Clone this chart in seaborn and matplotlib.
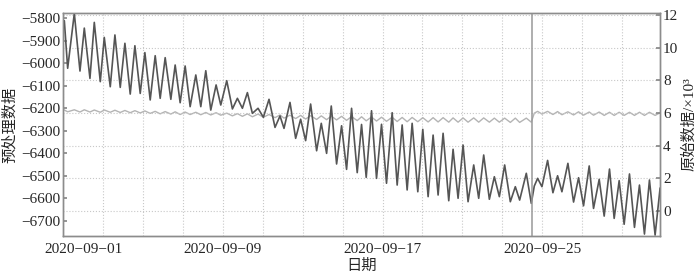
import pandas as pd
import numpy as np
import matplotlib
matplotlib.use('Agg')
import matplotlib.pyplot as plt
import matplotlib.dates as mdates
from matplotlib.transforms import ScaledTranslation
import seaborn as sns

START = pd.Timestamp('2020-09-01 00:00')
STEP_HOUR = 564  # instrument reset (vertical line)

# ----------------------- Data ----------------------
# hours since 2020-09-01 00:00, at each tidal peak / trough
hours = [1.6, 5.6, 13.6, 20.4, 25.6, 32.4, 37.6, 44.8, 49.6, 56.8,
         62.4, 68.8, 74.4, 80.8, 86.4, 92.8, 98.4, 104.8, 110.8, 116.8,
         122.8, 129.6, 134.8, 140.8, 146.8, 152.8, 159.6, 165.6, 171.6, 177.6,
         184.0, 189.6, 196.8, 203.6, 209.6, 215.6, 221.6, 227.6, 234.4, 240.8,
         247.6, 254.8, 260.8, 265.6, 272.8, 279.6, 285.6, 291.6, 297.6, 304.8,
         310.4, 316.8, 322.4, 328.8, 334.8, 340.8, 346.8, 353.6, 358.8, 364.4,
         370.8, 376.8, 382.8, 388.8, 395.6, 401.6, 407.6, 413.6, 419.6, 426.4,
         432.4, 438.8, 444.8, 450.8, 456.8, 463.6, 468.8, 474.8, 480.8, 486.8,
         493.6, 499.6, 505.6, 512.4, 518.4, 524.4, 530.8, 537.6, 543.6, 548.8,
         556.8, 562.8, 566.4, 570.4, 575.6, 582.4, 588.8, 594.4, 599.6, 606.8,
         613.6, 619.6, 625.6, 632.4, 637.6, 644.4, 650.4, 656.8, 662.4, 668.4,
         674.4, 680.8, 686.8, 692.8, 698.8, 704.8, 711.6, 717.6]

# raw data, x10^3 (right axis)
raw = [11.65, 8.74, 12.1, 8.57, 11.2, 8.12, 11.55, 7.92, 10.63, 7.61,
       10.78, 7.57, 10.27, 7.16, 10.12, 7.2, 9.7, 6.8, 9.51, 6.9,
       9.39, 6.84, 8.94, 6.63, 8.88, 6.39, 8.33, 6.39, 8.59, 6.18,
       7.72, 6.49, 7.98, 6.25, 6.9, 6.29, 7.25, 5.98, 6.29, 5.74,
       6.84, 5.12, 5.82, 5.06, 6.65, 4.45, 5.62, 4.31, 6.55, 3.69,
       5.37, 3.53, 6.43, 2.88, 5.22, 2.55, 6.29, 2.35, 5.3, 2.06,
       6.14, 2.0, 5.31, 1.7, 6.02, 1.59, 5.27, 1.29, 5.37, 1.18,
       5.0, 0.88, 4.65, 0.98, 4.76, 0.63, 3.78, 0.78, 4.04, 0.57,
       2.82, 0.78, 3.43, 0.72, 2.1, 0.88, 2.82, 0.57, 1.49, 0.67,
       2.31, 0.47, 1.53, 2.0, 1.49, 3.1, 1.12, 2.16, 1.18, 2.92,
       0.55, 2.04, 0.32, 2.76, 0.16, 1.94, -0.31, 2.57, -0.45, 1.86,
       -0.81, 2.27, -1.0, 1.59, -1.41, 1.9, -1.47, 1.41]

# pre-processed data (left axis)
pre = [-6208, -6216, -6207, -6217, -6207, -6217, -6208, -6218, -6208, -6218,
       -6209, -6219, -6210, -6220, -6211, -6221, -6212, -6223, -6214, -6225,
       -6215, -6226, -6216, -6228, -6217, -6228, -6218, -6229, -6219, -6230,
       -6220, -6231, -6222, -6234, -6224, -6236, -6225, -6238, -6226, -6240,
       -6228, -6242, -6230, -6244, -6231, -6246, -6232, -6248, -6233, -6250,
       -6234, -6251, -6235, -6252, -6236, -6254, -6237, -6255, -6238, -6256,
       -6239, -6257, -6240, -6258, -6240, -6259, -6241, -6260, -6241, -6260,
       -6242, -6261, -6242, -6261, -6242, -6262, -6243, -6262, -6243, -6262,
       -6243, -6262, -6243, -6262, -6244, -6262, -6244, -6263, -6244, -6263,
       -6244, -6262, -6222, -6214, -6226, -6214, -6228, -6215, -6229, -6216,
       -6230, -6216, -6231, -6217, -6231, -6217, -6232, -6218, -6232, -6218,
       -6232, -6218, -6232, -6218, -6232, -6218, -6232, -6220]

left_ticks = [-5800, -5900, -6000, -6100, -6200, -6300, -6400, -6500, -6600, -6700]
right_ticks = [0, 2, 4, 6, 8, 10, 12]

df = pd.DataFrame({'time': START + pd.to_timedelta(hours, unit='h'),
                   'raw': raw, 'pre': pre})

# ----------------------- Plot ---------------------------------------------
sns.set_theme(style='white')
plt.rcParams['font.family'] = ['Liberation Serif', 'Noto Sans CJK SC']
plt.rcParams['axes.unicode_minus'] = True

fig = plt.figure(figsize=(7, 2.78), dpi=100)
ax = fig.add_axes([0.09, 0.151, 0.853, 0.802])
ax2 = ax.twinx()

sns.lineplot(data=df, x='time', y='pre', ax=ax, color='#b4b4b4',
             linewidth=1.0, solid_joinstyle='round')
sns.lineplot(data=df, x='time', y='raw', ax=ax2, color='#555555',
             linewidth=1.2, solid_joinstyle='round')
ax2.axvline(START + pd.Timedelta(hours=STEP_HOUR), color='#999999', linewidth=1.1)

ax.set_xlim(START, START + pd.Timedelta(hours=717.6))
ax.set_ylim(-6767, -5778)
ax2.set_ylim(-1.53, 12.12)
ax.set_yticks(left_ticks)
ax2.set_yticks(right_ticks)

ax.xaxis.set_major_locator(mdates.DayLocator(bymonthday=[1, 9, 17, 25]))
ax.xaxis.set_minor_locator(mdates.DayLocator(bymonthday=list(range(1, 32, 2))))
ax.xaxis.set_major_formatter(mdates.DateFormatter('%Y\u2212%m\u2212%d'))

grid_kw = dict(color='#c8c8c8', linestyle=':', linewidth=0.8)
ax.xaxis.grid(True, which='both', **grid_kw)
ax2.yaxis.grid(True, **grid_kw)
ax.yaxis.grid(False)
ax2.xaxis.grid(False)

for a in (ax, ax2):
    a.tick_params(axis='both', which='both', direction='in', length=3,
                  labelsize=11, color='#888888', pad=2)
    for s in a.spines.values():
        s.set_color('#8c8c8c')
        s.set_linewidth(1.0)
ax.tick_params(axis='x', which='both', pad=5)

ax.set_xlabel('日期', fontsize=11, labelpad=2)
ax.set_ylabel('预处理数据', fontsize=11, labelpad=3)
ax2.set_ylabel('原始数据/×10³', fontsize=11, labelpad=3)

# first date label sits a little to the right in the original
fig.canvas.draw()
first = ax.get_xticklabels()[0]
first.set_transform(first.get_transform() +
                    ScaledTranslation(15 / 72, 0, fig.dpi_scale_trans))

fig.savefig('out.png', dpi=100)
